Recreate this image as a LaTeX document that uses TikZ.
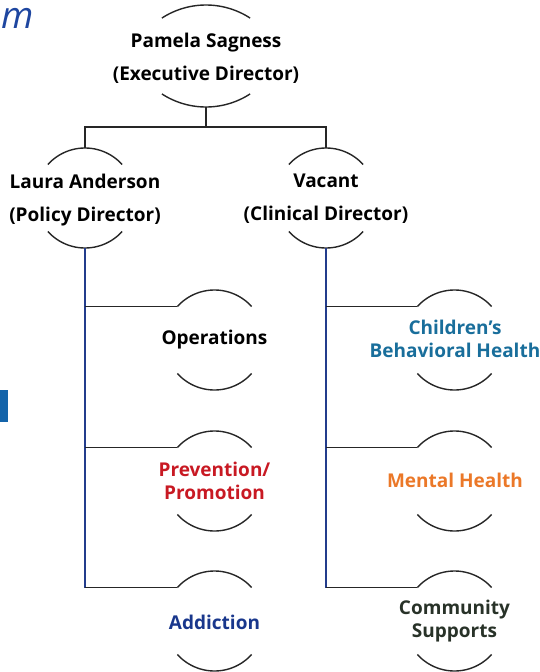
\documentclass[tikz,border=0pt]{standalone}
\usepackage{fontspec}
\setmainfont{Open Sans}
\usetikzlibrary{calc}
\definecolor{navy}{RGB}{35,60,140}
\definecolor{teal2}{RGB}{25,110,155}
\definecolor{red2}{RGB}{200,25,35}
\definecolor{orange2}{RGB}{235,120,40}
\definecolor{addblue}{RGB}{25,55,140}
\definecolor{commdark}{RGB}{40,50,40}
\definecolor{titleblue}{RGB}{30,70,160}
\definecolor{barblue}{RGB}{20,100,170}
% #1,#2 centre; #3 radius; #4 half angle
\newcommand{\arcpair}[4]{%
  \draw[arcline, domain={270-#4}:{270+#4}, samples=40, smooth, variable=\t] plot ({#1+#3*cos(\t)},{#2+#3*sin(\t)});
  \draw[arcline, domain={90-#4}:{90+#4}, samples=40, smooth, variable=\t] plot ({#1+#3*cos(\t)},{#2+#3*sin(\t)});}
\begin{document}
\begin{tikzpicture}[x=1pt,y=-1pt,
  arcline/.style={line width=1.4pt, black!85},
  tree/.style={line width=1.4pt, black!85},
  vtree/.style={line width=1.4pt, navy},
  lbl/.style={font=\bfseries\fontsize{19}{23}\selectfont, align=center, inner sep=0pt},
  dirlbl/.style={font=\bfseries\fontsize{19}{33}\selectfont, align=center, inner sep=0pt}]
\useasboundingbox (0,0) rectangle (539,672);

% fragments at the left edge
\node[anchor=base west, inner sep=0pt, text=titleblue, font=\itshape\fontsize{37}{40}\selectfont] (title) at (1,28) {m};
\fill[barblue] (0,390) rectangle (8,422);

% circle centres
\coordinate (lauc) at (85,198);
\coordinate (vacc) at (326,198);
\coordinate (opsc) at (214.5,340);
\coordinate (chic) at (454.5,340);
\coordinate (prec) at (214.5,481);
\coordinate (menc) at (454.5,481);
\coordinate (addc) at (214.5,621);
\coordinate (comc) at (454.5,621);

% Pamela arcs (flatter)
\draw[arcline, domain=237:303, samples=40, smooth, variable=\t] plot ({206+81*cos(\t)},{86+81*sin(\t)});
\draw[arcline, domain=57:123, samples=40, smooth, variable=\t] plot ({206+81*cos(\t)},{26+81*sin(\t)});

\arcpair{85}{198}{50}{48}
\arcpair{326}{198}{50}{48}
\arcpair{214.5}{340}{50}{48}
\arcpair{454.5}{340}{50}{48}
\arcpair{214.5}{481}{50}{48}
\arcpair{454.5}{481}{50}{48}
\arcpair{214.5}{621}{50}{48}
\arcpair{454.5}{621}{50}{48}

% labels
\node[dirlbl] (pam) at (206,58.5) {Pamela Sagness\\(Executive Director)};
\node[dirlbl] (lau) at (85,200) {Laura Anderson\\(Policy Director)};
\node[dirlbl] (vac) at (326,199) {Vacant\\(Clinical Director)};
\node[lbl] (ops) at (214.5,340) {Operations};
\node[lbl, text=teal2] (chi) at (455,339) {Children’s\\Behavioral Health};
\node[lbl, text=red2] (pre) at (214.5,481) {Prevention/\\Promotion};
\node[lbl, text=orange2] (men) at (455,480) {Mental Health};
\node[lbl, text=addblue] (add) at (214.5,622) {Addiction};
\node[lbl, text=commdark] (com) at (454.5,621.5) {Community\\Supports};

% connector end points
\coordinate (pam-b) at (206,107);
\coordinate (bus) at (206,127);
\coordinate (lau-t) at (85,148);
\coordinate (lau-b) at (85,248);
\coordinate (vac-t) at (326,148);
\coordinate (vac-b) at (326,248);
\coordinate (ops-l) at ($(opsc)+(222:50)$);
\coordinate (pre-l) at ($(prec)+(222:50)$);
\coordinate (add-l) at ($(addc)+(222:50)$);
\coordinate (chi-l) at ($(chic)+(222:50)$);
\coordinate (men-l) at ($(menc)+(222:50)$);
\coordinate (com-l) at ($(comc)+(222:50)$);

% connectors
\draw[tree] (pam-b) -- (bus);
\draw[tree] (lau-t) |- (bus) -| (vac-t);
\draw[vtree] (lau-b) -- (lau-b |- add-l);
\draw[vtree] (vac-b) -- (vac-b |- com-l);
\draw[tree] (lau-b |- ops-l) -- (ops-l);
\draw[tree] (lau-b |- pre-l) -- (pre-l);
\draw[tree] (lau-b |- add-l) -- (add-l);
\draw[tree] (vac-b |- chi-l) -- (chi-l);
\draw[tree] (vac-b |- men-l) -- (men-l);
\draw[tree] (vac-b |- com-l) -- (com-l);
\end{tikzpicture}
\end{document}
